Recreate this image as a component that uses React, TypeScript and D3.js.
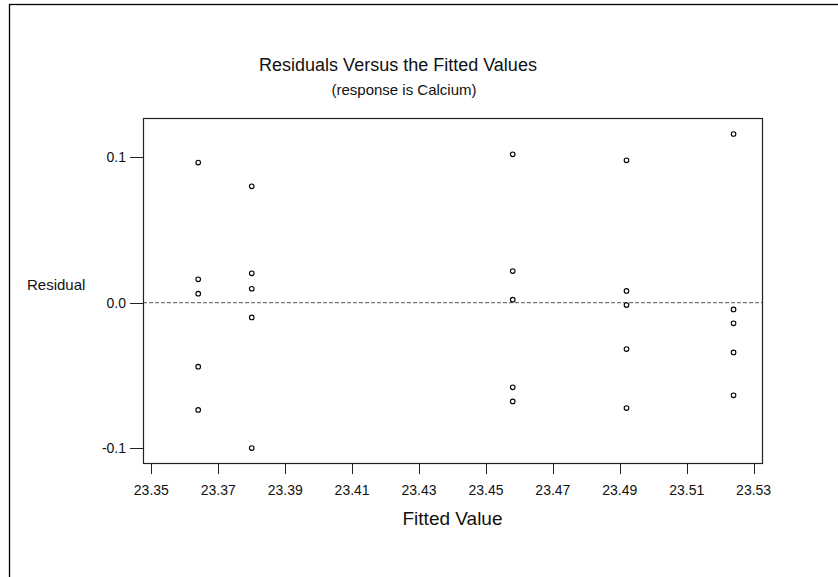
import React from "react";
import * as d3 from "d3";

const fittedLevels = [23.364, 23.380, 23.458, 23.492, 23.524];
const residualsByLevel = [
  [0.0964, 0.0161, 0.0062, -0.0440, -0.0738],
  [0.0801, 0.0202, 0.0096, -0.0101, -0.1000],
  [0.1021, 0.0218, 0.0021, -0.0582, -0.0679],
  [0.0980, 0.0081, -0.0016, -0.0319, -0.0725],
  [0.1161, -0.0046, -0.0142, -0.0342, -0.0637],
];
const xTicks = [23.35, 23.37, 23.39, 23.41, 23.43, 23.45, 23.47, 23.49, 23.51, 23.53];
const yTicks = [-0.1, 0.0, 0.1];

const W = 838;
const H = 577;
const font = "Arial, 'Liberation Sans', sans-serif";

export default function App() {
  const left = 143, right = 762, top = 118, bottom = 463;
  const x = d3.scaleLinear().domain([23.3475, 23.5325]).range([left, right]);
  const y = d3.scaleLinear().domain([-0.1103, 0.1271]).range([bottom, top]);
  const points = fittedLevels.flatMap((f, i) => residualsByLevel[i].map((r) => ({ f, r })));
  const cx = (left + right) / 2;
  const fmtY = (t: number) => d3.format(".1f")(t).replace("\u2212", "-");
  return (
    <svg width={W} height={H} style={{ position: "absolute", left: 0, top: 0, background: "#fff" }}>
      <rect x={0} y={0} width={W} height={H} fill="#fff" />
      <rect x={9.5} y={4.5} width={W + 20} height={H + 20} fill="none" stroke="#000" strokeWidth={1.3} />
      <text x={398} y={71} textAnchor="middle" fontFamily={font} fontSize={18} fill="#111">
        Residuals Versus the Fitted Values
      </text>
      <text x={404} y={95} textAnchor="middle" fontFamily={font} fontSize={15} fill="#111">
        (response is Calcium)
      </text>
      <line x1={left} x2={right} y1={y(0)} y2={y(0)} stroke="#555" strokeDasharray="4,2" strokeWidth={1} />
      <rect x={left + 0.5} y={top + 0.5} width={right - left} height={bottom - top} fill="none" stroke="#222" strokeWidth={1.2} />
      {yTicks.map((t) => (
        <g key={t}>
          <line x1={left - 13} x2={left} y1={Math.round(y(t)) + 0.5} y2={Math.round(y(t)) + 0.5} stroke="#222" />
          <text x={left - 17} y={y(t) + 5} textAnchor="end" fontFamily={font} fontSize={14} fill="#111">
            {fmtY(t)}
          </text>
        </g>
      ))}
      {xTicks.map((t) => (
        <g key={t}>
          <line x1={Math.round(x(t)) + 0.5} x2={Math.round(x(t)) + 0.5} y1={bottom} y2={bottom + 11} stroke="#222" />
          <text x={x(t)} y={bottom + 32} textAnchor="middle" fontFamily={font} fontSize={14} fill="#111">
            {d3.format(".2f")(t)}
          </text>
        </g>
      ))}
      <text x={cx} y={bottom + 62} textAnchor="middle" fontFamily={font} fontSize={19} fill="#111">
        Fitted Value
      </text>
      <text x={27} y={290} fontFamily={font} fontSize={15} fill="#111">
        Residual
      </text>
      {points.map((p, i) => (
        <circle key={i} cx={x(p.f)} cy={y(p.r)} r={2.3} fill="none" stroke="#000" strokeWidth={1.1} />
      ))}
    </svg>
  );
}
